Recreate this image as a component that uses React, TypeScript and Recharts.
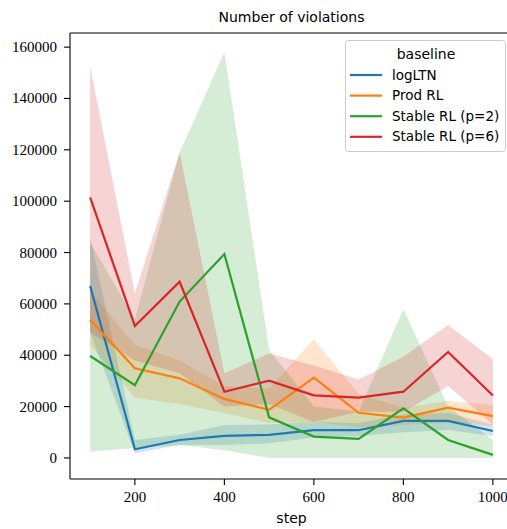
import React from "react";
import { ComposedChart, Area, Line, XAxis, YAxis, ReferenceLine, Label } from "recharts";

const steps = [100, 200, 300, 400, 500, 600, 700, 800, 900, 1000];

const logLTNMean = [67000, 3400, 7000, 8600, 9000, 10800, 10800, 14400, 14400, 10500];
const logLTNLow = [49000, 1800, 5000, 5000, 5700, 8000, 8500, 10000, 10900, 8500];
const logLTNHigh = [86000, 7000, 9000, 12800, 13000, 14000, 13500, 17000, 17500, 13000];

const prodMean = [53800, 34900, 31000, 23000, 18700, 31300, 17600, 15700, 19600, 16300];
const prodLow = [44000, 23500, 21000, 17500, 13600, 14000, 12000, 12800, 13600, 12500];
const prodHigh = [65000, 44000, 38000, 28000, 27000, 46200, 25000, 19500, 22300, 20500];

const stable2Mean = [39700, 28300, 60900, 79400, 15800, 8300, 7400, 19300, 7000, 1200];
const stable2Low = [2500, 3900, 5000, 3000, 0, 0, 0, 0, 0, 0];
const stable2High = [84000, 54000, 119000, 158000, 42000, 20000, 18000, 58000, 20000, 7000];

const stable6Mean = [101500, 51400, 68600, 25800, 30100, 24400, 23500, 25800, 41300, 24300];
const stable6Low = [49000, 38000, 33000, 20000, 21000, 14000, 18000, 18000, 28000, 13000];
const stable6High = [152500, 64000, 119000, 33000, 40700, 36000, 30600, 39400, 51800, 38500];

const xTicks = [200, 400, 600, 800, 1000];
const yTicks = [0, 20000, 40000, 60000, 80000, 100000, 120000, 140000, 160000];

const series = [
  { key: "logLTN", name: "logLTN", color: "#1f77b4", mean: logLTNMean, low: logLTNLow, high: logLTNHigh },
  { key: "prod", name: "Prod RL", color: "#ff7f0e", mean: prodMean, low: prodLow, high: prodHigh },
  { key: "s2", name: "Stable RL (p=2)", color: "#2ca02c", mean: stable2Mean, low: stable2Low, high: stable2High },
  { key: "s6", name: "Stable RL (p=6)", color: "#d62728", mean: stable6Mean, low: stable6Low, high: stable6High },
];

const data = steps.map((s, i) => {
  const row: any = { step: s };
  series.forEach((se) => {
    row[se.key + "Mean"] = se.mean[i];
    row[se.key + "Band"] = [se.low[i], se.high[i]];
  });
  return row;
});

const sans = "DejaVu Sans";
const serif = "Liberation Serif";

const XTick = (props: any) => {
  const { x, y, payload } = props;
  return (
    <text x={x} y={y + 10} textAnchor="middle" fontFamily={serif} fontSize={15} fill="#000">
      {payload.value}
    </text>
  );
};

const YTick = (props: any) => {
  const { x, y, payload } = props;
  return (
    <text x={x} y={y + 5} textAnchor="end" fontFamily={serif} fontSize={15} fill="#000">
      {payload.value}
    </text>
  );
};

export default function App() {
  return (
    <div style={{ position: "absolute", left: 0, top: 0, width: 507, height: 529, overflow: "hidden", background: "#fff" }}>
      <ComposedChart width={513} height={529} data={data} margin={{ top: 33, right: 0, bottom: 0, left: 0 }}>
        <XAxis
          dataKey="step"
          type="number"
          domain={[55, 1045]}
          ticks={xTicks}
          allowDataOverflow
          height={50}
          stroke="#000"
          tickSize={6}
          tickMargin={7}
          tick={XTick}
          axisLine={{ stroke: "#000", strokeWidth: 1.1 }}
          tickLine={{ stroke: "#000", strokeWidth: 1.1 }}
        >
          <Label value="step" position="insideBottom" offset={6} style={{ fontFamily: sans, fontSize: 14, fill: "#000" }} />
        </XAxis>
        <YAxis
          type="number"
          domain={[-8200, 165500]}
          ticks={yTicks}
          allowDataOverflow
          width={70}
          stroke="#000"
          tickSize={6}
          tickMargin={7}
          tick={YTick}
          axisLine={{ stroke: "#000", strokeWidth: 1.1 }}
          tickLine={{ stroke: "#000", strokeWidth: 1.1 }}
        />
        <ReferenceLine y={165500} stroke="#000" strokeWidth={1.1} />
        {series.flatMap((se) => [
          <Area
            key={se.key + "Band"}
            dataKey={se.key + "Band"}
            type="linear"
            stroke="none"
            fill={se.color}
            fillOpacity={0.2}
            isAnimationActive={false}
            legendType="none"
            dot={false}
            activeDot={false}
          />,
          <Line
            key={se.key + "Mean"}
            dataKey={se.key + "Mean"}
            name={se.name}
            type="linear"
            stroke={se.color}
            strokeWidth={2.2}
            dot={false}
            activeDot={false}
            isAnimationActive={false}
          />,
        ])}
      </ComposedChart>
      <svg width={507} height={529} style={{ position: "absolute", left: 0, top: 0, pointerEvents: "none" }}>
        <text x={291.5} y={22} textAnchor="middle" fontFamily={sans} fontSize={14} fill="#000">
          Number of violations
        </text>
        <g transform="translate(345,40)">
          <rect x={0.5} y={0.5} width={160} height={111} rx={3} fill="#fff" fillOpacity={0.8} stroke="#cccccc" strokeWidth={1} />
          <text x={81} y={19} textAnchor="middle" fontFamily={sans} fontSize={14} fill="#000">
            baseline
          </text>
          {series.map((se, i) => (
            <g key={se.key}>
              <line x1={5} x2={37} y1={35 + i * 20.6} y2={35 + i * 20.6} stroke={se.color} strokeWidth={2.2} />
              <text x={47} y={39.5 + i * 20.6} fontFamily={sans} fontSize={13.5} fill="#000">
                {se.name}
              </text>
            </g>
          ))}
        </g>
      </svg>
    </div>
  );
}
